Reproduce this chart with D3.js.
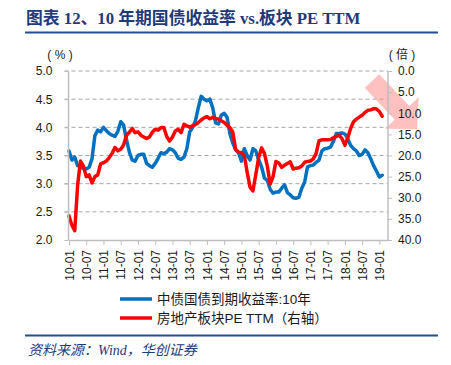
<!DOCTYPE html>
<meta charset="utf-8">
<style>
  body { margin: 0; background: #fff; }
  svg text { font-family: "Liberation Sans", Arial, "Noto Sans CJK SC", sans-serif; }
  .tick text { fill: #1a1a1a; font-size: 12px; }
  .cjk { font-family: "Liberation Serif", "Noto Sans CJK SC", serif; }
</style>
<body>
<svg id="chart" width="451" height="365"></svg>
</body>
<script src="https://cdnjs.cloudflare.com/ajax/libs/d3/7.8.5/d3.min.js"></script>
<script>
  // monthly readings, first value = 2010-01
  const startLabel = '10-01'
  const yield10y = [
    3.58, 3.42, 3.47, 3.32, 3.30, 3.27, 3.26, 3.29, 3.44, 3.85, 3.95, 3.92,
    4.00, 3.94, 3.89, 3.86, 3.84, 3.93, 4.10, 4.04, 3.78, 3.56, 3.42, 3.40,
    3.50, 3.52, 3.52, 3.36, 3.32, 3.29, 3.36, 3.45, 3.55, 3.53, 3.56, 3.62,
    3.60, 3.55, 3.45, 3.43, 3.47, 3.62, 3.92, 4.00, 4.12, 4.35, 4.55, 4.50,
    4.47, 4.50, 4.35, 4.08, 4.06, 4.22, 4.25, 4.18, 3.88, 3.72, 3.60, 3.55,
    3.40, 3.62, 3.50, 3.42, 3.62, 3.58, 3.42, 3.30, 3.10, 3.06, 2.90, 2.83,
    2.85, 2.85, 2.92, 2.98, 2.84, 2.80, 2.75, 2.74, 2.76, 2.92, 3.03, 3.30,
    3.32, 3.33, 3.38, 3.42, 3.58, 3.62, 3.63, 3.65, 3.75, 3.89, 3.89, 3.90,
    3.88, 3.80, 3.68, 3.62, 3.58, 3.50, 3.52, 3.60, 3.55, 3.44, 3.32, 3.22,
    3.12, 3.15
  ]
  const pePropertyTTM = [
    34.3, 36.5, 37.8, 27.0, 21.3, 22.5, 25.0, 24.6, 26.5, 25.0, 24.6, 22.0,
    21.7, 21.3, 20.5, 19.5, 18.1, 18.9, 18.5, 17.5, 15.2, 14.5, 13.6, 14.6,
    14.4, 15.2, 15.6, 16.0, 15.6, 14.5, 13.8, 14.0, 13.4, 13.4, 15.5, 16.6,
    15.6, 14.2, 13.8, 14.6, 12.6, 13.0, 13.3, 13.0, 12.7, 12.2, 11.6, 11.1,
    10.8, 11.3, 11.0, 11.2, 11.4, 11.8, 12.2, 12.8, 13.4, 14.5, 18.6, 19.2,
    19.3, 20.0, 24.0, 27.5, 28.4, 24.5, 20.5, 18.2, 19.5, 22.5, 26.8, 25.0,
    21.4, 21.8, 22.8, 22.3, 21.9, 21.5, 23.2, 23.0, 22.9, 22.5, 21.6, 21.4,
    21.3, 20.8, 19.5, 16.5, 16.3, 16.3, 16.3, 16.2, 15.8, 15.5, 15.2, 16.0,
    17.6, 15.8, 13.6, 12.0, 11.4, 10.9, 10.5, 9.8, 9.3, 9.2, 8.9, 9.0,
    9.6, 10.7
  ]
  const xTickLabels = ['10-01','10-07','11-01','11-07','12-01','12-07','13-01','13-07','14-01',
    '14-07','15-01','15-07','16-01','16-07','17-01','17-07','18-01','18-07','19-01']
  const leftTicks = [2.0, 2.5, 3.0, 3.5, 4.0, 4.5, 5.0]
  const rightTicks = [0, 5, 10, 15, 20, 25, 30, 35, 40]
  const legendNames = ['中债国债到期收益率:10年', '房地产板块PE TTM（右轴）']
  const colors = ['#0070C0', '#FF0000']

  const monthIndex = s => {
    const [y, m] = s.split('-').map(Number)
    const [y0, m0] = startLabel.split('-').map(Number)
    return (y - y0) * 12 + (m - m0)
  }

  const [pL, pR, pT, pB] = [68.5, 388, 71, 240]
  const svg = d3.select('#chart')

  const x = d3.scaleLinear().domain([0, 111]).range([pL + 0.5, pR])
  const yL = d3.scaleLinear().domain([2, 5]).range([pB, pT])
  const yR = d3.scaleLinear().domain([0, 40]).range([pT, pB])

  // title
  svg.append('text').attr('class', 'cjk')
      .attr('x', 26).attr('y', 24)
      .attr('font-size', 16.8).attr('font-weight', 'bold').attr('fill', '#1F3A7A')
      .text('图表 12、10 年期国债收益率 vs.板块 PE TTM')
  svg.append('line').attr('x1', 25).attr('x2', 438).attr('y1', 32.5).attr('y2', 32.5)
      .attr('stroke', '#1F4E96').attr('stroke-width', 2)

  // gridlines
  svg.append('g').selectAll('line')
      .data(leftTicks.filter(d => d > 2))
    .enter().append('line')
      .attr('x1', pL - 4).attr('x2', pR)
      .attr('y1', d => yL(d)).attr('y2', d => yL(d))
      .attr('stroke', '#A6A6A6').attr('stroke-dasharray', '4,3')

  // series
  const idx = d3.range(yield10y.length)
  svg.append('path')
      .datum(idx)
      .attr('fill', 'none').attr('stroke', colors[0]).attr('stroke-width', 3.5)
      .attr('stroke-linejoin', 'round').attr('stroke-linecap', 'round')
      .attr('d', d3.line().x(i => x(i)).y(i => yL(yield10y[i])))
  svg.append('path')
      .datum(idx)
      .attr('fill', 'none').attr('stroke', colors[1]).attr('stroke-width', 3.5)
      .attr('stroke-linejoin', 'round').attr('stroke-linecap', 'round')
      .attr('d', d3.line().x(i => x(i)).y(i => yR(pePropertyTTM[i])))

  // pink arrow pointing down-right
  const [ax0, ay0, ax1, ay1] = [372, 81, 417, 129]
  const len = Math.hypot(ax1 - ax0, ay1 - ay0)
  const ang = Math.atan2(ay1 - ay0, ax1 - ax0) * 180 / Math.PI
  const [head, hw, sw] = [22, 23, 10]
  svg.append('path')
      .attr('transform', `translate(${ax0},${ay0}) rotate(${ang})`)
      .attr('d', `M0,${-sw}L${len - head},${-sw}L${len - head},${-hw}L${len},0L${len - head},${hw}L${len - head},${sw}L0,${sw}Z`)
      .attr('fill', '#FF8C8C').attr('opacity', 0.55)

  // axes
  const axisL = svg.append('g').attr('transform', `translate(${pL},0)`)
      .call(d3.axisLeft(yL).tickValues(leftTicks).tickFormat(d3.format('.1f')).tickSize(4).tickPadding(12))
  const axisR = svg.append('g').attr('transform', `translate(${pR},0)`)
      .call(d3.axisRight(yR).tickValues(rightTicks).tickFormat(d3.format('.1f')).tickSize(4).tickPadding(6))
  const axisB = svg.append('g').attr('transform', `translate(0,${pB})`)
      .call(d3.axisBottom(x).tickValues(xTickLabels.map(monthIndex))
        .tickFormat((d, i) => xTickLabels[i]).tickSize(5).tickSizeOuter(0))
  axisB.selectAll('.tick text')
      .attr('transform', 'rotate(-90)')
      .attr('x', -10).attr('y', 0).attr('dy', '.35em')
      .attr('text-anchor', 'end').attr('font-size', 12.5)
  for (const a of [axisL, axisR, axisB]) {
    a.select('.domain').attr('stroke', '#BFBFBF').attr('stroke-width', 1.5)
    a.selectAll('.tick line').attr('stroke', '#BFBFBF')
    a.attr('font-family', null).attr('font-size', null)
  }
  axisL.select('.domain').attr('d', `M0,${pT}V${pB}`)
  axisR.select('.domain').attr('d', `M0,${pT}V${pB}`)

  // unit labels
  svg.append('text').attr('x', 60).attr('y', 59).attr('text-anchor', 'middle')
      .attr('font-size', 12).attr('fill', '#1a1a1a').text('( % )')
  svg.append('text').attr('x', 402).attr('y', 59).attr('text-anchor', 'middle')
      .attr('font-size', 12).attr('fill', '#1a1a1a').text('( 倍 )')

  // legend
  const lg = svg.append('g').selectAll('g')
      .data(legendNames)
    .enter().append('g')
      .attr('transform', (d, i) => `translate(120,${299 + i * 19})`)
  lg.append('line').attr('x1', 0).attr('x2', 32)
      .attr('stroke', (d, i) => colors[i]).attr('stroke-width', 3.5)
  lg.append('text').attr('x', 37).attr('dy', '.36em')
      .attr('font-size', 13.5).attr('fill', '#1a1a1a')
      .text(d => d)

  // footer
  svg.append('line').attr('x1', 25).attr('x2', 438).attr('y1', 335.5).attr('y2', 335.5)
      .attr('stroke', '#1F4E96').attr('stroke-width', 2)
  svg.append('text').attr('class', 'cjk')
      .attr('x', 28).attr('y', 355)
      .attr('font-size', 14).attr('font-style', 'italic').attr('fill', '#1F3A7A')
      .text('资料来源：Wind，华创证券')
</script>
